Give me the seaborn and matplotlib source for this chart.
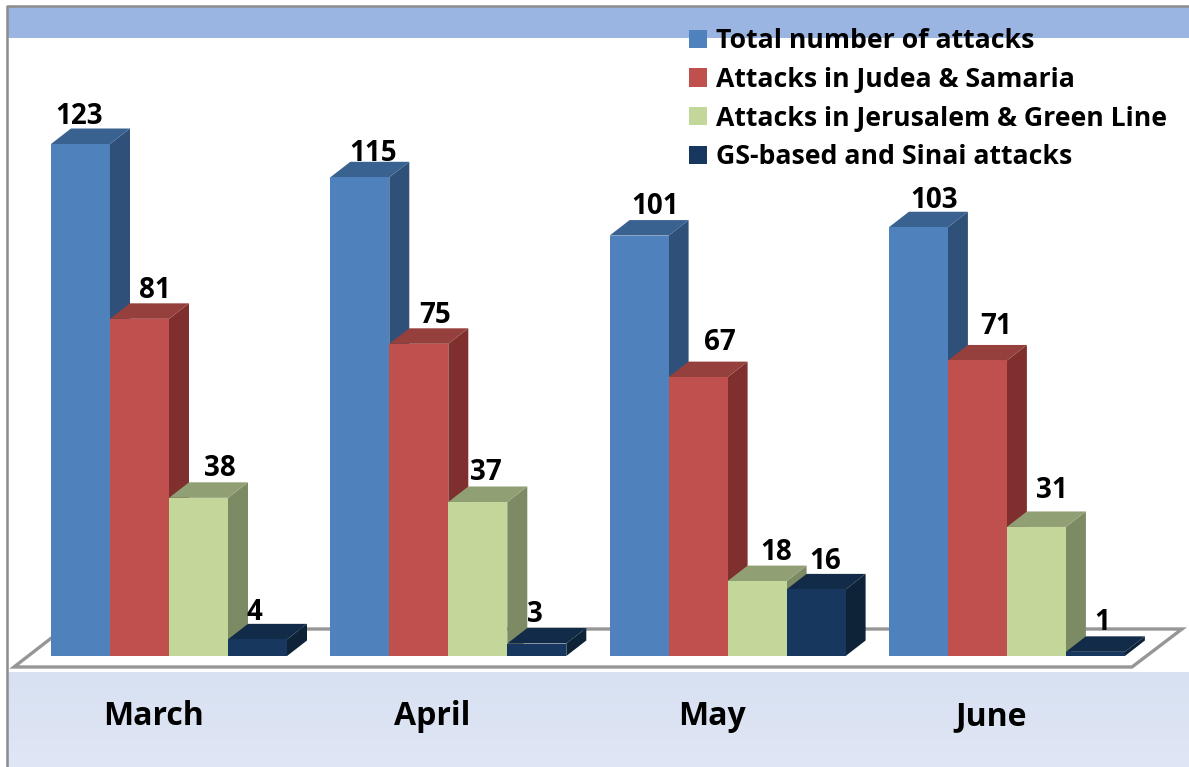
import numpy as np
import pandas as pd
import matplotlib
matplotlib.use("Agg")
import matplotlib.pyplot as plt
import matplotlib.transforms as mtransforms
from matplotlib.patches import Polygon, Rectangle
import seaborn as sns

months = ["March", "April", "May", "June"]
series = ["Total number of attacks", "Attacks in Judea & Samaria",
          "Attacks in Jerusalem & Green Line", "GS-based and Sinai attacks"]
total = [123, 115, 101, 103]
judea = [81, 75, 67, 71]
jerusalem = [38, 37, 18, 31]
gaza = [4, 3, 16, 1]

front_colors = ["#4F81BD", "#C0504D", "#C4D79B", "#17375E"]
side_colors = ["#2F5078", "#7F2F2D", "#7D8B64", "#0E2238"]
top_colors = ["#3A6291", "#95403D", "#919F74", "#122B48"]

# label nudges in pixels, per series then month (the original labels were hand placed)
nudge_x = [[-1, 13, 16, 16], [15, 16, 22, 19], [21, 8, 19, 15], [-3, -2, 9, 7]]
nudge_y = [[27, 24, 29, 27], [28, 28, 35, 34], [29, 29, 29, 36], [27, 29, 28, 29]]

W, H = 1189, 767
PX_X = 279.3      # pixels per month
PX_Y = 512 / 123  # pixels per attack
X0, Y0 = 169, 656  # pixel position of first month, zero line
DX, DY = 20 / PX_X, 15.5 / PX_Y  # depth of the fake 3d

df = pd.DataFrame({"month": months * 4,
                   "series": np.repeat(series, 4),
                   "value": total + judea + jerusalem + gaza})

sns.set_theme(style="white")
plt.rcParams["font.family"] = ["Open Sans", "DejaVu Sans"]
plt.rcParams["font.weight"] = "bold"

fig = plt.figure(figsize=(W / 100, H / 100), dpi=100)
ax = fig.add_axes([0, 0, 1, 1])

sns.barplot(data=df, x="month", y="value", hue="series", hue_order=series,
            palette=front_colors, width=236 / PX_X, gap=0, saturation=1,
            linewidth=0, ax=ax)

ax.set_xlim(-X0 / PX_X, (W - X0) / PX_X)
ax.set_ylim((Y0 - H) / PX_Y, Y0 / PX_Y)
ax.set_xlabel("")
ax.set_ylabel("")
ax.set_yticks([])
sns.despine(ax=ax, left=True, bottom=True)
ax.tick_params(axis="x", length=0, labelsize=23, pad=-48)
ax.set_xticks([i - 16 / PX_X for i in range(4)], months)  # month names sit left of the group centre
for lab in ax.get_xticklabels():
    lab.set_fontweight("bold")
    lab.set_color("black")

# background bits, in pixels from the top left
px = mtransforms.Affine2D().scale(1 / W, -1 / H).translate(0, 1) + fig.transFigure
ax.add_patch(Rectangle((8, 7), W, 31, transform=px, fc="#9BB5E3", ec="none", zorder=0.5))
grad = np.linspace(0, 1, 50)[:, None]
cmap = matplotlib.colors.LinearSegmentedColormap.from_list("band", ["#D8E1F2", "#DFE6F5"])
ax.imshow(grad, cmap=cmap, extent=(8, W, 767, 672), transform=px, aspect="auto", zorder=0.5)
ax.set_xlim(-X0 / PX_X, (W - X0) / PX_X)
ax.set_ylim((Y0 - H) / PX_Y, Y0 / PX_Y)
ax.add_line(plt.Line2D([7, 7, W], [H, 6, 6], transform=px, color="#8C8C8C", lw=1.8, zorder=0.6))
ax.add_patch(Polygon([(14, 667), (1132, 667), (1182, 629), (63, 629)], closed=True,
                     transform=px, fc="white", ec="#969696", lw=2.4, zorder=1))

# fake 3d faces off the bars seaborn drew
for s, cont in enumerate(ax.containers):
    for m, bar in enumerate(cont):
        x0, x1 = bar.get_x(), bar.get_x() + bar.get_width()
        top = bar.get_height()
        z = 2 + m * 4 + s * 0.5
        bar.set_zorder(z + 0.2)
        ax.add_patch(Polygon([(x1, 0), (x1 + DX, DY), (x1 + DX, top + DY), (x1, top)],
                             fc=side_colors[s], ec="none", zorder=z))
        ax.add_patch(Polygon([(x0, top), (x1, top), (x1 + DX, top + DY), (x0 + DX, top + DY)],
                             fc=top_colors[s], ec="none", zorder=z + 0.1))
        ax.annotate(f"{top:.0f}", ((x0 + x1) / 2, top),
                    xytext=(nudge_x[s][m], nudge_y[s][m]), textcoords="offset pixels",
                    ha="center", va="center", fontsize=20, fontweight="bold",
                    color="black", zorder=40)

leg = ax.legend(loc="upper left", bbox_to_anchor=(689 / W, 1 - 28 / H), frameon=False,
                fontsize=19.2, handlelength=0.67, handleheight=0.67, handletextpad=0.34,
                labelspacing=0.48, borderpad=0, borderaxespad=0, title=None)
leg.set_zorder(50)
for t in leg.get_texts():
    t.set_fontweight("bold")
    t.set_color("black")

fig.savefig("out.png", dpi=100)
